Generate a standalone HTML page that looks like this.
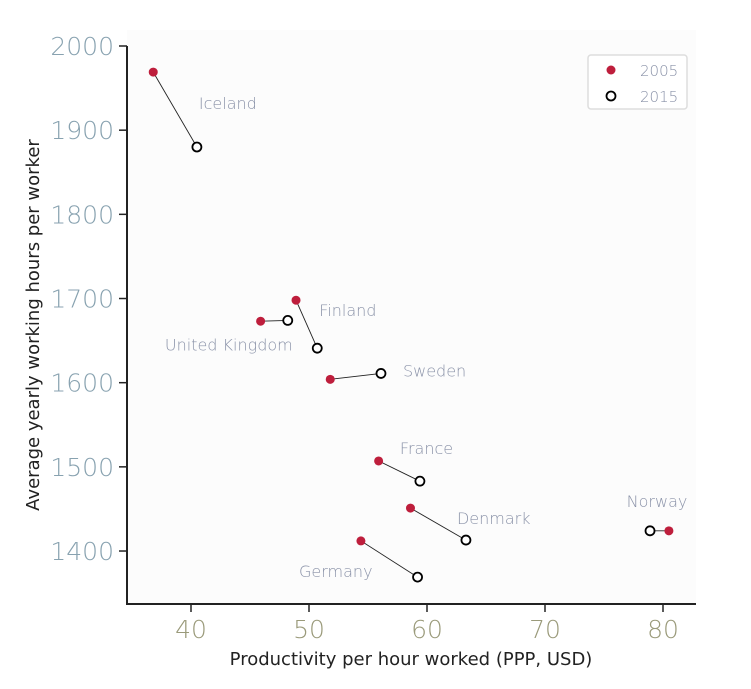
<!DOCTYPE html>
<html><head><meta charset="utf-8"><style>
body{margin:0;background:#fff;}
svg text{font-family:"DejaVu Sans","Liberation Sans",sans-serif;}
</style></head><body>
<svg id="chart" width="751" height="684" xmlns="http://www.w3.org/2000/svg">
<rect x="127" y="30" width="569" height="574" fill="#fcfcfc"/>
<g id="marks"></g>
<g id="axes"></g>
<g>
<rect x="588" y="55" width="99" height="54" rx="3" fill="#fff" stroke="#ddd" stroke-width="1.5"/>
<circle cx="611" cy="70" r="4.5" fill="#be1e3c"/>
<text x="640" y="76" font-size="15" fill="#8a92a8" font-weight="300">2005</text>
<circle cx="611" cy="96" r="4.5" fill="#fff" stroke="#000" stroke-width="1.8"/>
<text x="640" y="102" font-size="15" fill="#8a92a8" font-weight="300">2015</text>
</g>
<text x="411" y="665" text-anchor="middle" font-size="18" fill="#222">Productivity per hour worked (PPP, USD)</text>
<text transform="translate(39,325) rotate(-90)" text-anchor="middle" font-size="18" fill="#222">Average yearly working hours per worker</text>
</svg>
<script>
const countries=["Iceland","Finland","United Kingdom","Sweden","France","Denmark","Germany","Norway"];
const prod2005=[36.8,48.9,45.9,51.8,55.9,58.6,54.4,80.5];
const hours2005=[1969,1698,1673,1604,1507,1451,1412,1424];
const prod2015=[40.5,50.7,48.2,56.1,59.4,63.3,59.2,78.9];
const hours2015=[1880,1641,1674,1611,1483,1413,1369,1424];
const xTicks=[40,50,60,70,80];
const yTicks=[1400,1500,1600,1700,1800,1900,2000];
const labelOffsets=[[2,-38,"start"],[2,-32,"start"],[5,30,"end"],[22,3,"start"],[-20,-27,"start"],[-9,-16,"start"],[-45,0,"end"],[7,-24,"middle"]];
const X=v=>191+(v-40)*11.8;
const Y=v=>46+(2000-v)*0.8417;
const NS="http://www.w3.org/2000/svg";
function mk(t,a,p){const e=document.createElementNS(NS,t);for(const k in a)e.setAttribute(k,a[k]);p.appendChild(e);return e;}
const marks=document.getElementById('marks'),axes=document.getElementById('axes');
countries.forEach((c,i)=>{
 const l=mk('line',{x1:X(prod2005[i]),y1:Y(hours2005[i]),x2:X(prod2015[i]),y2:Y(hours2015[i]),stroke:'#222','stroke-width':0.9},marks);
 
 
 const a=mk('circle',{cx:X(prod2005[i]),cy:Y(hours2005[i]),r:4.5,fill:'#be1e3c'},marks);
 
 
 const b=mk('circle',{cx:X(prod2015[i]),cy:Y(hours2015[i]),r:4.5,fill:'#fff',stroke:'#000','stroke-width':1.8},marks);
 
 
 const o=labelOffsets[i];
 const t=mk('text',{x:X(prod2015[i])+o[0],y:Y(hours2015[i])+o[1],'text-anchor':o[2],'font-size':16,fill:'#8a92a8','font-weight':300},marks);
 t.textContent=c;
 
 
});
const ya=mk('line',{x1:127,y1:46,x2:127,y2:604,stroke:'#222','stroke-width':2},axes);


const xa=mk('line',{x1:126,y1:604,x2:696,y2:604,stroke:'#222','stroke-width':2},axes);


yTicks.forEach(v=>{
 const tk=mk('line',{x1:119,y1:Y(v),x2:127,y2:Y(v),stroke:'#222','stroke-width':1.5},axes);
 
 
 const t=mk('text',{x:114,y:Y(v)+9,'text-anchor':'end','font-size':25,fill:'#88a2b0','font-weight':200},axes);
 t.textContent=v;
 
 
});
xTicks.forEach(v=>{
 const tk=mk('line',{x1:X(v),y1:604,x2:X(v),y2:612,stroke:'#222','stroke-width':1.5},axes);
 
 
 const t=mk('text',{x:X(v),y:638,'text-anchor':'middle','font-size':25,fill:'#9a9a7a','font-weight':200},axes);
 t.textContent=v;
 
 
});
</script>
</body></html>
